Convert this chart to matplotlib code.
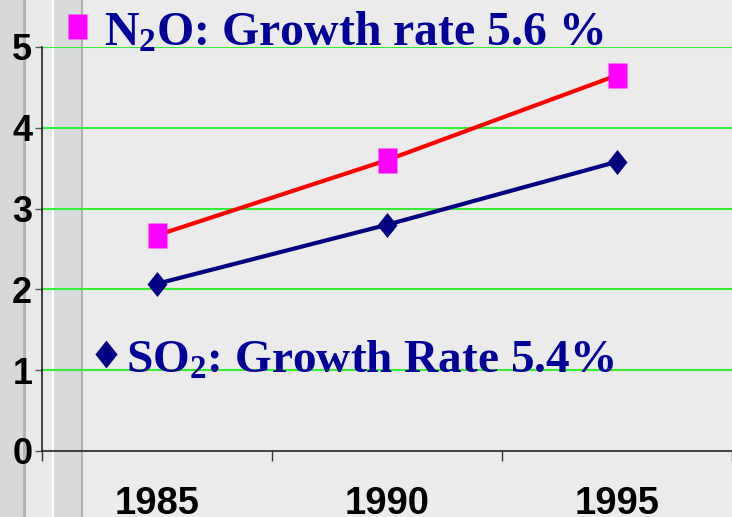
import matplotlib
matplotlib.use("Agg")
import matplotlib.pyplot as plt
from matplotlib.path import Path
from matplotlib.lines import Line2D
from matplotlib.patches import Rectangle

# ---- data ----
years = ["1985", "1990", "1995"]
n2o = [2.67, 3.60, 4.65]
so2 = [2.07, 2.80, 3.58]
y_ticks = [0, 1, 2, 3, 4, 5]
n2o_label = r"$\mathbf{N_2O}$: Growth rate 5.6 %"
so2_label = r"$\mathbf{SO_2}$: Growth Rate 5.4%"

plt.rcParams["mathtext.fontset"] = "custom"
plt.rcParams["mathtext.bf"] = "Liberation Serif:bold"
plt.rcParams["mathtext.rm"] = "Liberation Serif:bold"

W, H = 732, 517
fig = plt.figure(figsize=(W / 100, H / 100), dpi=100)
fig.patch.set_facecolor("#ebebeb")

def fx(px):
    return px / W

# background strips (decoration)
strips = [
    (0, 23, "#d6d8da"), (23, 26, "#b4b4b4"), (26, 52, "#e9eaea"),
    (52, 54, "#ffffff"), (54, 81, "#d9dadc"), (81, 83, "#b0b0b0"),
]
for x0, x1, c in strips:
    fig.patches.append(Rectangle((fx(x0), 0), fx(x1 - x0), 1, transform=fig.transFigure,
                                 facecolor=c, edgecolor="none", zorder=-10))

left = 42 / W
bottom = 66 / H
height = (451 - 47) / H
ax = fig.add_axes([left, bottom, 1 - left, height])
ax.set_facecolor("none")

x = list(range(len(years)))
ax.set_xlim(-0.5, -0.5 + (W - 42) / 233.5)
ax.set_ylim(0, 5)

for yv in y_ticks[1:]:
    ax.axhline(yv, color="#33ee33", lw=1.5, zorder=1)

ax.plot(x, n2o, color="#ff0000", lw=3, zorder=3)
ax.plot(x, so2, color="#000080", lw=3, zorder=3)

rect = Path([(-0.38, -0.5), (0.38, -0.5), (0.38, 0.5), (-0.38, 0.5), (-0.38, -0.5)],
            [Path.MOVETO, Path.LINETO, Path.LINETO, Path.LINETO, Path.CLOSEPOLY])
diam = Path([(0, -0.5), (0.4, 0), (0, 0.5), (-0.4, 0), (0, -0.5)],
            [Path.MOVETO, Path.LINETO, Path.LINETO, Path.LINETO, Path.CLOSEPOLY])
ax.plot(x, n2o, linestyle="none", marker=rect, markersize=18,
        markerfacecolor="#ff00ff", markeredgecolor="none", zorder=4, clip_on=False)
ax.plot(x, so2, linestyle="none", marker=diam, markersize=18,
        markerfacecolor="#000080", markeredgecolor="none", zorder=4, clip_on=False)

for s in ["top", "right"]:
    ax.spines[s].set_visible(False)
for s in ["left", "bottom"]:
    ax.spines[s].set_color("#222222")
    ax.spines[s].set_linewidth(1.2)

ax.set_yticks(y_ticks)
ax.set_yticklabels([str(v) for v in y_ticks])
ax.tick_params(axis="y", length=5, width=1, color="#555555", pad=2, labelsize=26)
for t in ax.get_yticklabels():
    t.set_fontfamily("Liberation Sans")
    t.set_fontweight("bold")

ax.set_xticks([i - 0.5 for i in range(len(years) + 1)])
ax.set_xticklabels([""] * (len(years) + 1))
ax.set_xticks(x, minor=True)
ax.set_xticklabels(years, minor=True)
ax.tick_params(axis="x", which="major", length=7, width=1, color="#333333")
ax.tick_params(axis="x", which="minor", length=0, pad=25.5, labelsize=27.5)
for t in ax.get_xticklabels(minor=True):
    t.set_fontfamily("Liberation Sans")
    t.set_fontweight("bold")
    t.set_va("top")

# legend-like labels
fig.add_artist(Line2D([fx(77)], [1 - 26 / H], transform=fig.transFigure, marker=rect,
                      markersize=18, markerfacecolor="#ff00ff", markeredgecolor="none",
                      linestyle="none"))
fig.add_artist(Line2D([fx(106)], [1 - 354 / H], transform=fig.transFigure, marker=diam,
                      markersize=20, markerfacecolor="#000080", markeredgecolor="none",
                      linestyle="none"))
fig.text(fx(104), 1 - 45 / H, n2o_label, fontsize=34.4, color="#000099",
         family="Liberation Serif", weight="bold", va="baseline", ha="left")
fig.text(fx(126), 1 - 373 / H, so2_label, fontsize=34, color="#000099",
         family="Liberation Serif", weight="bold", va="baseline", ha="left")

fig.savefig("out.png", dpi=100, facecolor=fig.get_facecolor())
